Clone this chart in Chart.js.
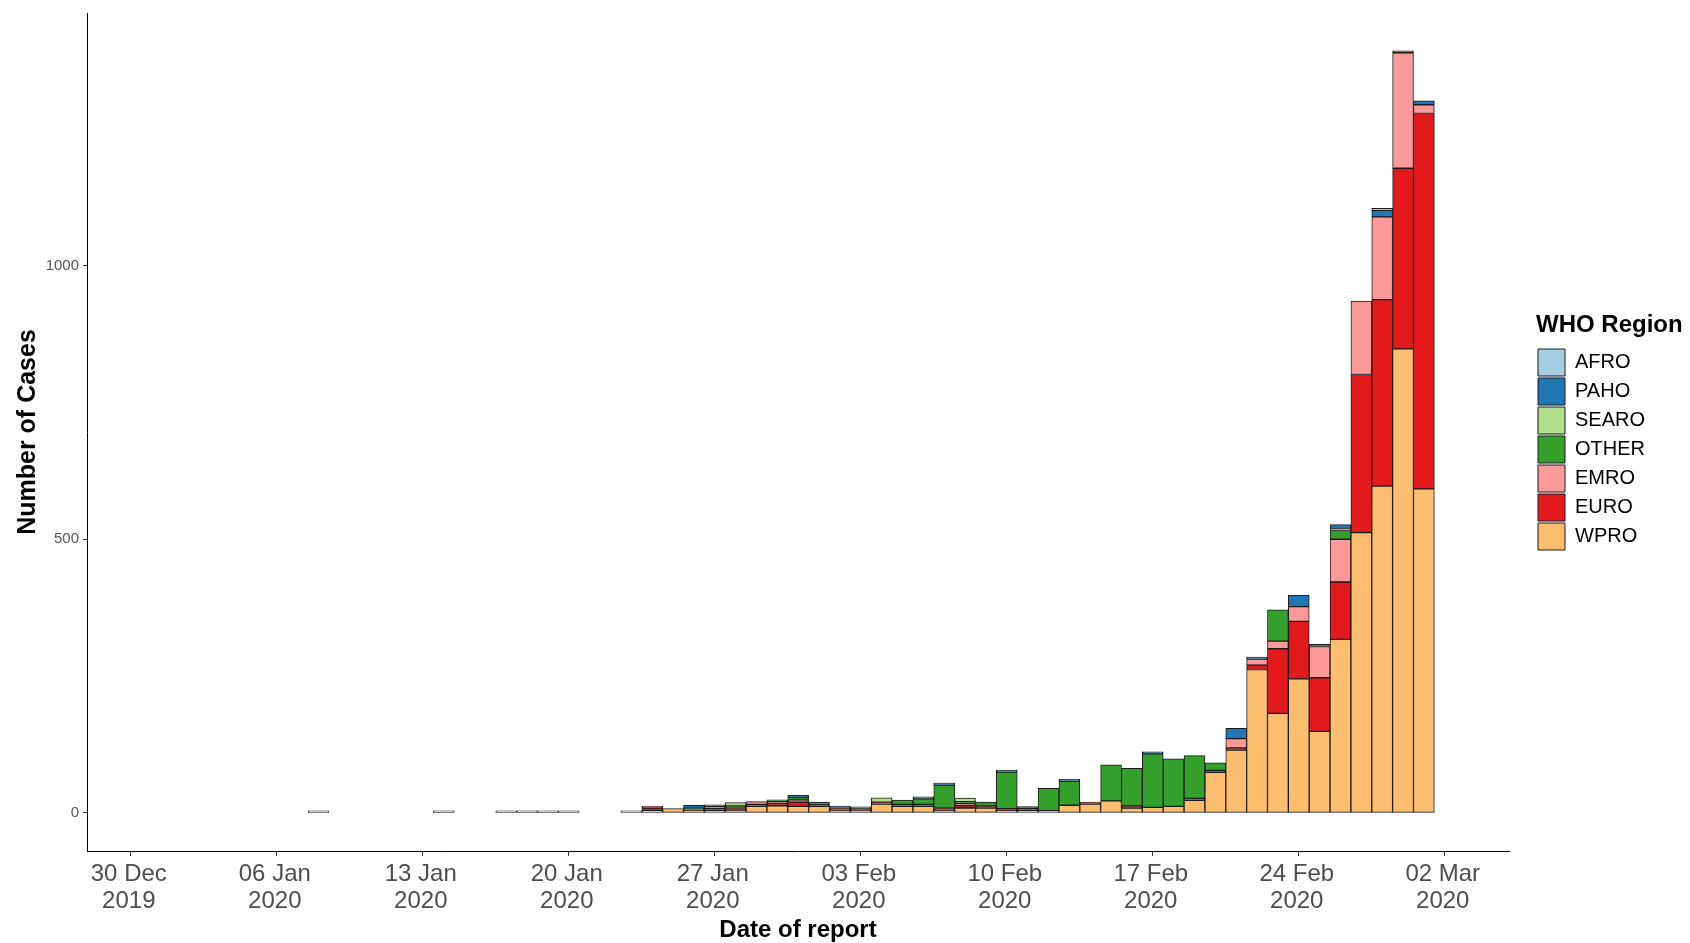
<!DOCTYPE html>
<html>
<head>
<meta charset="utf-8">
<title>Cases by WHO Region and date of report</title>
<script src="https://cdn.jsdelivr.net/npm/chart.js@4.4.1/dist/chart.umd.min.js"></script>
<style>
  html, body { margin: 0; padding: 0; background: #fff; }
  canvas { display: block; }
</style>
</head>
<body>
<canvas id="chart" width="1690" height="943"></canvas>
<script>
// report dates (one bar per day)
const reportDates = [
  '2020-01-08', '2020-01-14', '2020-01-17', '2020-01-18', '2020-01-19', '2020-01-20',
  '2020-01-23', '2020-01-24', '2020-01-25', '2020-01-26', '2020-01-27', '2020-01-28',
  '2020-01-29', '2020-01-30', '2020-01-31', '2020-02-01', '2020-02-02', '2020-02-03',
  '2020-02-04', '2020-02-05', '2020-02-06', '2020-02-07', '2020-02-08', '2020-02-09',
  '2020-02-10', '2020-02-11', '2020-02-12', '2020-02-13', '2020-02-14', '2020-02-15',
  '2020-02-16', '2020-02-17', '2020-02-18', '2020-02-19', '2020-02-20', '2020-02-21',
  '2020-02-22', '2020-02-23', '2020-02-24', '2020-02-25', '2020-02-26', '2020-02-27',
  '2020-02-28', '2020-02-29', '2020-03-01'
];

// cases per region, same order as reportDates
const wpro  = [1, 1, 1, 1, 1, 1, 2, 4, 8, 5, 4, 5, 12, 13, 12, 12, 5, 2, 16, 12, 12, 5, 9, 9, 2, 4, 4, 14, 16, 22, 9, 10, 12, 23, 74, 115, 262, 182, 245, 149, 317, 512, 597, 848, 592];
const euro  = [0, 0, 0, 0, 0, 0, 0, 5, 0, 0, 2, 4, 2, 2, 8, 1, 1, 1, 2, 2, 2, 2, 4, 1, 4, 2, 0, 0, 3, 0, 3, 0, 0, 3, 2, 2, 8, 118, 105, 98, 105, 289, 341, 330, 686];
const emro  = [0, 0, 0, 0, 0, 0, 0, 3, 0, 0, 2, 0, 5, 2, 1, 0, 0, 0, 0, 0, 0, 0, 3, 0, 0, 0, 0, 0, 0, 0, 0, 0, 0, 0, 0, 17, 11, 14, 27, 57, 78, 134, 151, 211, 16];
const other = [0, 0, 0, 0, 0, 0, 0, 0, 0, 1, 2, 2, 0, 2, 5, 2, 0, 1, 0, 8, 10, 42, 3, 7, 67, 4, 41, 44, 0, 66, 69, 98, 87, 78, 14, 0, 0, 57, 0, 0, 16, 0, 0, 0, 0];
const searo = [0, 0, 0, 0, 0, 0, 0, 0, 0, 0, 0, 6, 0, 0, 0, 0, 0, 0, 8, 0, 0, 0, 7, 0, 0, 0, 0, 0, 0, 0, 0, 0, 0, 0, 0, 0, 0, 0, 0, 0, 3, 0, 0, 0, 0];
const paho  = [0, 0, 0, 0, 0, 0, 0, 0, 0, 5, 0, 0, 0, 0, 2, 0, 1, 0, 0, 0, 2, 2, 0, 0, 2, 0, 0, 2, 0, 0, 0, 3, 0, 0, 0, 19, 2, 0, 21, 4, 7, 0, 12, 3, 7];
const afro  = [0, 0, 0, 0, 0, 0, 0, 0, 0, 0, 0, 0, 0, 0, 0, 0, 0, 0, 0, 0, 0, 0, 0, 0, 0, 0, 0, 0, 0, 0, 0, 0, 0, 0, 0, 0, 0, 0, 0, 0, 0, 0, 1, 0, 0];

// x ticks, in days after 30 Dec 2019
const tickDays = [0, 7, 14, 21, 28, 35, 42, 49, 56, 63];
const tickLabels = [
  ['30 Dec', '2019'], ['06 Jan', '2020'], ['13 Jan', '2020'], ['20 Jan', '2020'], ['27 Jan', '2020'],
  ['03 Feb', '2020'], ['10 Feb', '2020'], ['17 Feb', '2020'], ['24 Feb', '2020'], ['02 Mar', '2020']
];
const yTicks = [0, 500, 1000];

const DAY0 = Date.UTC(2019, 11, 30);
function dayIndex(s) {
  const [y, m, d] = s.split('-').map(Number);
  return (Date.UTC(y, m - 1, d) - DAY0) / 86400000;
}
const xs = reportDates.map(dayIndex);

function points(values) {
  return values
    .map((v, i) => ({ x: xs[i], y: v }))
    .filter(p => p.y > 0);
}

// stacked bottom to top; the legend is reversed to list AFRO first
const regions = [
  { label: 'WPRO', values: wpro, color: '#fdbf6f' },
  { label: 'EURO', values: euro, color: '#e31a1c' },
  { label: 'EMRO', values: emro, color: '#fb9a99' },
  { label: 'OTHER', values: other, color: '#33a02c' },
  { label: 'SEARO', values: searo, color: '#b2df8a' },
  { label: 'PAHO', values: paho, color: '#1f78b4' },
  { label: 'AFRO', values: afro, color: '#a6cee3' }
];

// leave a gap between the plot panel and the legend, like ggplot,
// and centre the legend on the panel only
const legendGap = {
  id: 'legendGap',
  beforeLayout(chart) {
    const legend = chart.legend;
    if (!legend || legend._patched) return;
    const fit = legend.fit;
    legend.fit = function () {
      fit.call(this);
      this.width = 181;
    };
    legend._patched = true;
  },
  afterLayout(chart) {
    const legend = chart.legend;
    const area = chart.chartArea;
    legend.left = area.right + 27;
    legend.top = area.top;
    legend.bottom = area.bottom;
    legend.height = area.bottom - area.top;
  }
};

Chart.defaults.font.family = "'Liberation Sans', Arial, sans-serif";

const ctx = document.getElementById('chart').getContext('2d');
new Chart(ctx, {
  type: 'bar',
  data: {
    datasets: regions.map(r => ({
      label: r.label,
      data: points(r.values),
      backgroundColor: r.color,
      borderColor: '#1a1a1a',
      borderWidth: 1,
      borderSkipped: false,
      minBarLength: 2,
      barPercentage: 1,
      categoryPercentage: 1
    }))
  },
  options: {
    responsive: false,
    animation: false,
    layout: { padding: { top: 11, left: 0, right: 0, bottom: 0 } },
    plugins: {
      tooltip: { enabled: false },
      legend: {
        position: 'right',
        reverse: true,
        labels: {
          boxWidth: 27,
          boxHeight: 27,
          padding: 2,
          color: '#000',
          font: { size: 20 }
        },
        title: {
          display: true,
          text: 'WHO Region',
          position: 'start',
          color: '#000',
          font: { size: 24, weight: 'bold', lineHeight: 1.1 },
          padding: { top: 1, bottom: 7.6 }
        }
      }
    },
    scales: {
      x: {
        type: 'linear',
        stacked: true,
        offset: false,
        min: -2.1,
        max: 66.08,
        afterBuildTicks: axis => { axis.ticks = tickDays.map(v => ({ value: v })); },
        afterFit: axis => { axis.height = 92; },
        ticks: {
          autoSkip: false,
          maxRotation: 0,
          minRotation: 0,
          padding: 5,
          labelOffset: -2,
          color: '#4d4d4d',
          font: { size: 24, lineHeight: 1.125 },
          callback: value => tickLabels[tickDays.indexOf(value)]
        },
        grid: { offset: false, drawOnChartArea: false, drawTicks: true, tickLength: 5, tickColor: '#333' },
        border: { display: true, color: '#000', width: 1 },
        title: {
          display: true,
          text: 'Date of report',
          color: '#000',
          font: { size: 24, weight: 'bold', lineHeight: 1.05 },
          padding: { top: 0, bottom: 0 }
        }
      },
      y: {
        stacked: true,
        min: -69.6,
        max: 1461.6,
        afterBuildTicks: axis => { axis.ticks = yTicks.map(v => ({ value: v })); },
        afterFit: axis => { axis.width = 87; },
        ticks: {
          padding: 4,
          color: '#555',
          font: { size: 15 },
          callback: value => String(value)
        },
        grid: { drawOnChartArea: false, drawTicks: true, tickLength: 4, tickColor: '#333' },
        border: { display: true, color: '#000', width: 1 },
        title: {
          display: true,
          text: 'Number of Cases',
          color: '#000',
          font: { size: 25, weight: 'bold', lineHeight: 1.2 },
          padding: { top: 13.5, bottom: 0 }
        }
      }
    }
  },
  plugins: [legendGap]
});
</script>
</body>
</html>
